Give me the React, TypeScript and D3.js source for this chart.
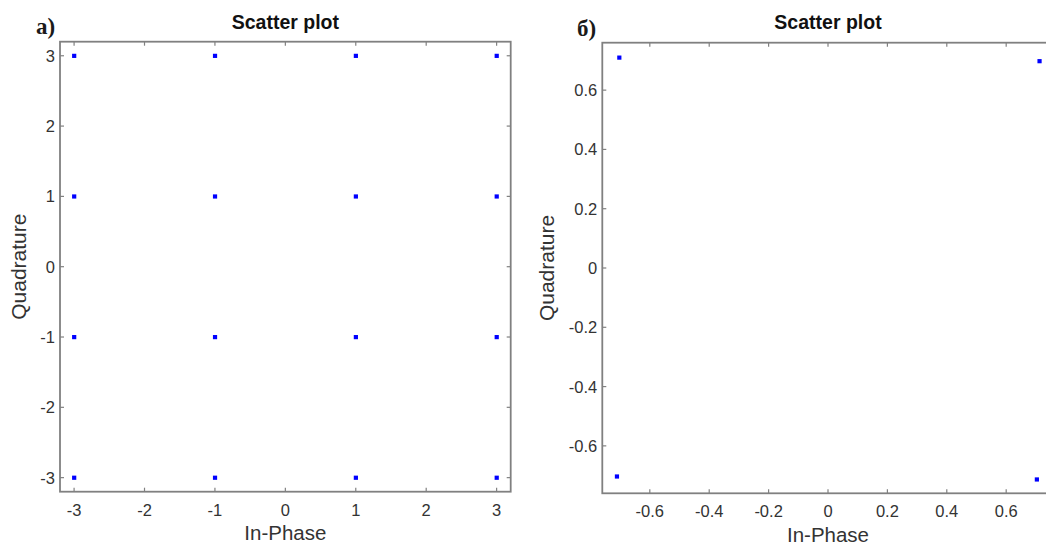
import React from "react";
import * as d3 from "d3";

// Panel a) 16-QAM constellation
const qamI = [-3, -1, 1, 3, -3, -1, 1, 3, -3, -1, 1, 3, -3, -1, 1, 3];
const qamQ = [3, 3, 3, 3, 1, 1, 1, 1, -1, -1, -1, -1, -3, -3, -3, -3];
const ticksA = [-3, -2, -1, 0, 1, 2, 3];
const domainA: [number, number] = [-3.2, 3.2];

// Panel б) QPSK constellation
const qpskI = [-0.703, 0.712, -0.711, 0.703];
const qpskQ = [0.71, 0.698, -0.703, -0.713];
const ticksB = [-0.6, -0.4, -0.2, 0, 0.2, 0.4, 0.6];
const domainB: [number, number] = [-0.76, 0.76];

const FONT = "'Liberation Sans', Arial, sans-serif";
const AXIS = "#808080";
const TXT = "#333333";

type PanelProps = {
  left: number;
  right: number;
  top: number;
  bottom: number;
  domain: [number, number];
  ticks: number[];
  xs: number[];
  ys: number[];
  tag: string;
  tagX: number;
  tagY: number;
  fmt: (v: number) => string;
  yLabOff: number;
};

function Panel(p: PanelProps) {
  const x = d3.scaleLinear().domain(p.domain).range([p.left, p.right]);
  const y = d3.scaleLinear().domain(p.domain).range([p.bottom, p.top]);
  const tl = 4;
  const cx = x(0);
  const cy = y(0);
  return (
    <g>
      <text x={p.tagX} y={p.tagY} fontFamily="'Liberation Serif', 'Times New Roman', serif" fontWeight="bold" fontSize={23} fill="#1a1a1a">
        {p.tag}
      </text>
      <text x={cx} y={29} textAnchor="middle" fontFamily={FONT} fontWeight="bold" fontSize={19.5} fill="#111">
        Scatter plot
      </text>
      {p.ticks.map((t) => (
        <g key={"t" + t}>
          <line x1={x(t)} x2={x(t)} y1={p.bottom} y2={p.bottom - tl} stroke={AXIS} strokeWidth={1.2} />
          <line x1={x(t)} x2={x(t)} y1={p.top} y2={p.top + tl} stroke={AXIS} strokeWidth={1.2} />
          <line x1={p.left} x2={p.left + tl} y1={y(t)} y2={y(t)} stroke={AXIS} strokeWidth={1.2} />
          <line x1={p.right} x2={p.right - tl} y1={y(t)} y2={y(t)} stroke={AXIS} strokeWidth={1.2} />
          <text x={x(t)} y={p.bottom + 24} textAnchor="middle" fontFamily={FONT} fontSize={16.5} fill={TXT}>
            {p.fmt(t)}
          </text>
          <text x={p.left - 5} y={y(t) + 6} textAnchor="end" fontFamily={FONT} fontSize={16.5} fill={TXT}>
            {p.fmt(t)}
          </text>
        </g>
      ))}
      <rect x={p.left} y={p.top} width={p.right - p.left} height={p.bottom - p.top} fill="none" stroke={AXIS} strokeWidth={1.8} />
      {p.xs.map((v, i) => (
        <rect key={"p" + i} x={x(v) - 2} y={y(p.ys[i]) - 2} width={4.2} height={4.2} fill="#0000ff" />
      ))}
      <text x={cx} y={p.bottom + 48.5} textAnchor="middle" fontFamily={FONT} fontSize={20.5} fill={TXT}>
        In-Phase
      </text>
      <text
        transform={`translate(${p.left - p.yLabOff},${cy}) rotate(-90)`}
        textAnchor="middle"
        fontFamily={FONT}
        fontSize={21}
        fill={TXT}
      >
        Quadrature
      </text>
    </g>
  );
}

export default function App() {
  const fmtA = (v: number) => (v < 0 ? "-" + Math.abs(v) : String(v));
  const fmtB = (v: number) => (v === 0 ? "0" : (v < 0 ? "-" : "") + Math.abs(v).toFixed(1));
  return (
    <svg width={1046} height={545} style={{ position: "absolute", left: 0, top: 0, background: "#fff" }}>
      <rect width={1046} height={545} fill="#fff" />
      <Panel
        left={60}
        right={510.7}
        top={41.7}
        bottom={491.7}
        domain={domainA}
        ticks={ticksA}
        xs={qamI}
        ys={qamQ}
        tag="а)"
        tagX={36}
        tagY={34}
        fmt={fmtA}
        yLabOff={34}
      />
      <Panel
        left={602.3}
        right={1053.7}
        top={42.7}
        bottom={493.3}
        domain={domainB}
        ticks={ticksB}
        xs={qpskI}
        ys={qpskQ}
        tag="б)"
        tagX={577}
        tagY={36}
        fmt={fmtB}
        yLabOff={48}
      />
    </svg>
  );
}
